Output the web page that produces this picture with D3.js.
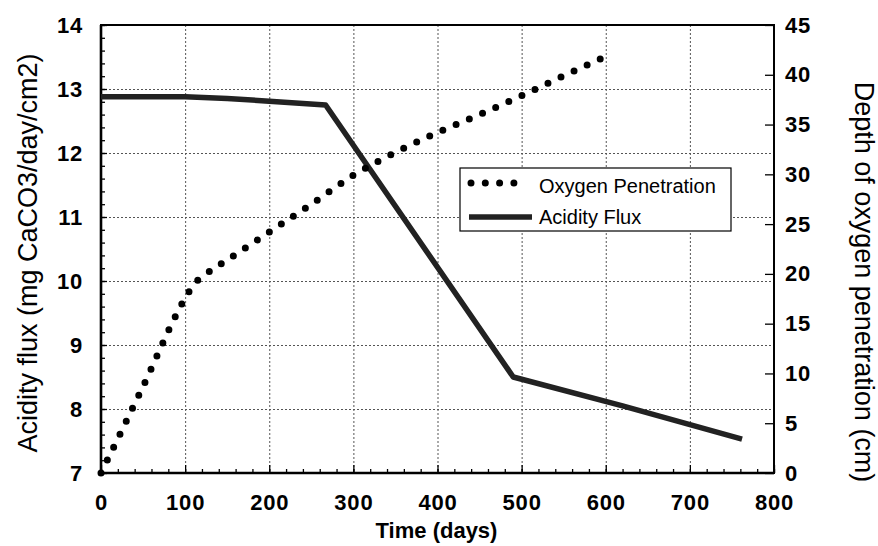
<!DOCTYPE html>
<html>
<head>
<meta charset="utf-8">
<script src="https://cdn.jsdelivr.net/npm/d3@7"></script>
<style>
  body { margin: 0; background: #fff; }
  svg { display: block; font-family: "Liberation Sans", Arial, sans-serif; }
  .tick text { font-weight: bold; font-size: 22px; fill: #000; letter-spacing: 0.8px; }
  .tick line { stroke: #000; stroke-width: 1.3; }
</style>
</head>
<body>
<div id="chart"></div>
<script>
// time (days) vs acidity flux, mg CaCO3/day/cm2
const acidDays = [0, 100, 150, 200, 267, 490, 620, 762];
const acidFlux = [12.88, 12.88, 12.85, 12.81, 12.75, 8.5, 8.05, 7.53];

// time (days) vs depth of oxygen penetration (cm)
const oxyDays = [0, 50, 95, 103, 111, 125, 150, 200, 250, 300, 350, 400, 450, 500, 550, 600];
const oxyDepth = [0, 8.7, 16.8, 18.0, 19.0, 20.0, 21.4, 24.2, 27.0, 29.9, 32.2, 34.2, 36.0, 37.9, 39.9, 41.85];

const xTicks = [0, 100, 200, 300, 400, 500, 600, 700, 800];
const yLeftTicks = [7, 8, 9, 10, 11, 12, 13, 14];
const yRightTicks = [0, 5, 10, 15, 20, 25, 30, 35, 40, 45];

const legendNames = ["Oxygen Penetration", "Acidity Flux"];

const width = 878, height = 546;
const margin = {top: 25, right: 104, bottom: 73, left: 101};
const plotW = width - margin.left - margin.right;
const plotH = height - margin.top - margin.bottom;

const svg = d3.select("#chart").append("svg")
    .attr("width", width)
    .attr("height", height);

const g = svg.append("g").attr("transform", `translate(${margin.left},${margin.top})`);

const x = d3.scaleLinear().domain([0, 800]).range([0, plotW]);
const yL = d3.scaleLinear().domain([7, 14]).range([plotH, 0]);
const yR = d3.scaleLinear().domain([0, 45]).range([plotH, 0]);

// grid
g.append("g").selectAll("line")
    .data(xTicks.filter(d => d > 0 && d < 800))
    .enter().append("line")
    .attr("x1", d => x(d) + 0.5).attr("x2", d => x(d) + 0.5)
    .attr("y1", 0).attr("y2", plotH)
    .attr("stroke", "#555").attr("stroke-width", 1).attr("stroke-dasharray", "2,2");
g.append("g").selectAll("line")
    .data(yLeftTicks.filter(d => d > 7 && d < 14))
    .enter().append("line")
    .attr("x1", 0).attr("x2", plotW)
    .attr("y1", d => yL(d) + 0.5).attr("y2", d => yL(d) + 0.5)
    .attr("stroke", "#555").attr("stroke-width", 1).attr("stroke-dasharray", "2,2");

// minor ticks
g.append("g")
    .call(d3.axisLeft(yL).tickValues(d3.range(7, 14.001, 0.2)).tickSize(-4).tickFormat(""))
    .call(a => a.select(".domain").remove());
g.append("g").attr("transform", `translate(0,${plotH})`)
    .call(d3.axisBottom(x).tickValues(d3.range(0, 801, 20)).tickSize(-4).tickFormat(""))
    .call(a => a.select(".domain").remove());

// major axes
g.append("g")
    .call(d3.axisLeft(yL).tickValues(yLeftTicks).tickSize(-6).tickPadding(18).tickFormat(d3.format("d")))
    .call(a => a.select(".domain").remove());
g.append("g").attr("transform", `translate(0,${plotH})`)
    .call(d3.axisBottom(x).tickValues(xTicks).tickSize(-8).tickPadding(21).tickFormat(d3.format("d")))
    .call(a => a.select(".domain").remove());
g.append("g").attr("transform", `translate(${plotW},0)`)
    .call(d3.axisRight(yR).tickValues(yRightTicks).tickSize(-9).tickPadding(11).tickFormat(d3.format("d")))
    .call(a => a.select(".domain").remove());

// frame
g.append("rect")
    .attr("x", 0).attr("y", 0).attr("width", plotW).attr("height", plotH)
    .attr("fill", "none").attr("stroke", "#000").attr("stroke-width", 2);
g.append("line").attr("x1", 0).attr("x2", 0).attr("y1", 0).attr("y2", plotH)
    .attr("stroke", "#000").attr("stroke-width", 2.6);
g.append("line").attr("x1", 0).attr("x2", plotW).attr("y1", plotH).attr("y2", plotH)
    .attr("stroke", "#000").attr("stroke-width", 2.6);

// acidity flux line
let acid = acidDays.map((d, i) => ({t: d, v: acidFlux[i]}));
g.append("path")
    .datum(acid)
    .attr("fill", "none")
    .attr("stroke", "#222")
    .attr("stroke-width", 5.5)
    .attr("stroke-linejoin", "round")
    .attr("d", d3.line().x(d => x(d.t)).y(d => yL(d.v)));

// oxygen penetration, round dotted line
let oxy = oxyDays.map((d, i) => ({t: d, v: oxyDepth[i]}));
g.append("path")
    .datum(oxy)
    .attr("fill", "none")
    .attr("stroke", "#000")
    .attr("stroke-width", 7)
    .attr("stroke-linecap", "round")
    .attr("stroke-dasharray", "0,14.4")
    .attr("d", d3.line().curve(d3.curveMonotoneX).x(d => x(d.t)).y(d => yR(d.v)));

// legend
const leg = svg.append("g").attr("transform", "translate(460,168)");
leg.append("rect").attr("width", 271).attr("height", 63)
    .attr("fill", "#fff").attr("stroke", "#000").attr("stroke-width", 1.2);
leg.append("line").attr("x1", 11).attr("x2", 54).attr("y1", 15).attr("y2", 15)
    .attr("stroke", "#000").attr("stroke-width", 7)
    .attr("stroke-linecap", "round").attr("stroke-dasharray", "0,14.3");
leg.append("line").attr("x1", 9).attr("x2", 72).attr("y1", 49).attr("y2", 49)
    .attr("stroke", "#222").attr("stroke-width", 5.5);
leg.selectAll("text.lg").data(legendNames).enter().append("text")
    .attr("class", "lg")
    .attr("x", 79).attr("y", (d, i) => 25 + i * 31)
    .attr("font-size", 20)
    .attr("fill", "#000")
    .text(d => d);

// axis titles
svg.append("text")
    .attr("transform", `translate(37,${margin.top + plotH / 2 + 4}) rotate(-90)`)
    .attr("text-anchor", "middle")
    .attr("font-size", 27)
    .attr("fill", "#000")
    .text("Acidity flux (mg CaCO3/day/cm2)");
svg.append("text")
    .attr("transform", `translate(855,${margin.top + plotH / 2 + 33}) rotate(90)`)
    .attr("text-anchor", "middle")
    .attr("font-size", 27)
    .attr("fill", "#000")
    .text("Depth of oxygen penetration (cm)");
svg.append("text")
    .attr("x", margin.left + plotW / 2 - 1)
    .attr("y", 538)
    .attr("text-anchor", "middle")
    .attr("font-size", 22)
    .attr("font-weight", "bold")
    .attr("fill", "#000")
    .text("Time (days)");
</script>
</body>
</html>
